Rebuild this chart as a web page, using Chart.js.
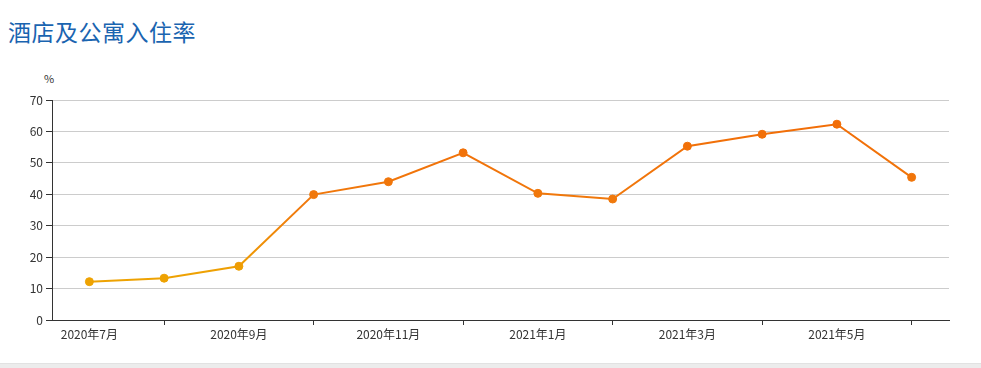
<!DOCTYPE html>
<html lang="zh-CN">
<head>
<meta charset="utf-8">
<title>酒店及公寓入住率</title>
<script src="https://cdn.jsdelivr.net/npm/chart.js@4/dist/chart.umd.min.js"></script>
<style>
    body {
        margin: 0;
        background: #fff;
        width: 981px;
        height: 368px;
        overflow: hidden;
        position: relative;
        font-family: "Noto Sans CJK SC", "Noto Sans", sans-serif;
    }
    #title {
        position: absolute;
        left: 8px;
        top: 16px;
        font-size: 23px;
        line-height: 30px;
        color: #1a64b0;
        letter-spacing: 0.5px;
    }
    #unit {
        position: absolute;
        left: 44px;
        top: 70px;
        font-size: 11px;
        color: #333;
    }
    #chartBox {
        position: absolute;
        left: 0;
        top: 0;
        width: 981px;
        height: 362px;
    }
    #footer {
        position: absolute;
        left: 0;
        top: 363px;
        width: 981px;
        height: 5px;
        background: #ececec;
        border-top: 1px solid #e2e2e2;
    }
</style>
</head>
<body>
<div id="title">酒店及公寓入住率</div>
<div id="unit">%</div>
<div id="chartBox"><canvas id="myChart"></canvas></div>
<div id="footer"></div>

<script>
// Mois affichés sur l'axe x
const months = [
    "2020年7月", "2020年8月", "2020年9月", "2020年10月", "2020年11月", "2020年12月",
    "2021年1月", "2021年2月", "2021年3月", "2021年4月", "2021年5月", "2021年6月",
];

// Taux d'occupation (%)
const occupancy = [12.2, 13.3, 17.1, 39.9, 44.0, 53.2, 40.3, 38.5, 55.3, 59.1, 62.3, 45.4];

const yTicks = [0, 10, 20, 30, 40, 50, 60, 70];

// Gradient vertical: jaune en bas, orange en haut
function lineGradient(context) {
    const chart = context.chart;
    const area = chart.chartArea;
    if (!area) {
        return "#f07a0c";
    }
    const g = chart.ctx.createLinearGradient(0, area.bottom, 0, area.top);
    g.addColorStop(0, "#eda800");
    g.addColorStop(0.22, "#eea103");
    g.addColorStop(0.5, "#f07a0c");
    g.addColorStop(1, "#f26a06");
    return g;
}

const ctx = document.getElementById("myChart").getContext("2d");

const myChart = new Chart(ctx, {
    type: "line",
    data: {
        labels: months,
        datasets: [
            {
                label: "入住率",
                data: occupancy,
                borderColor: lineGradient,
                backgroundColor: lineGradient,
                pointBackgroundColor: lineGradient,
                pointBorderColor: lineGradient,
                borderWidth: 2,
                pointRadius: 4,
                pointBorderWidth: 1,
                tension: 0,
                fill: false,
            },
        ],
    },
    options: {
        responsive: true,
        maintainAspectRatio: false,
        animation: false,
        layout: {
            padding: { top: 100, right: 32, bottom: 0, left: 0 },
        },
        plugins: {
            legend: { display: false },
            tooltip: { enabled: false },
        },
        scales: {
            x: {
                offset: true,
                grid: {
                    offset: false,
                    drawOnChartArea: false,
                    tickLength: 5,
                    tickColor: (c) => (c.index % 2 === 1 ? "#333" : "rgba(0,0,0,0)"),
                },
                border: { color: "#333", width: 1 },
                ticks: {
                    autoSkip: false,
                    maxRotation: 0,
                    padding: 2,
                    color: "#333",
                    font: { size: 12, family: "'Noto Sans CJK SC', sans-serif" },
                    callback: function (value, index) {
                        return index % 2 === 0 ? months[index] : "";
                    },
                },
                afterFit: function (scale) {
                    scale.height = 42;
                },
            },
            y: {
                min: 0,
                max: 70,
                afterBuildTicks: function (scale) {
                    scale.ticks = yTicks.map((v) => ({ value: v }));
                },
                grid: {
                    color: "#cccccc",
                    tickColor: "#333",
                    tickLength: 6,
                },
                border: { color: "#333", width: 1 },
                ticks: {
                    padding: 3,
                    color: "#333",
                    font: { size: 12, family: "'Noto Sans CJK SC', sans-serif" },
                },
                afterFit: function (scale) {
                    scale.width = 52;
                },
            },
        },
    },
});
</script>
</body>
</html>
